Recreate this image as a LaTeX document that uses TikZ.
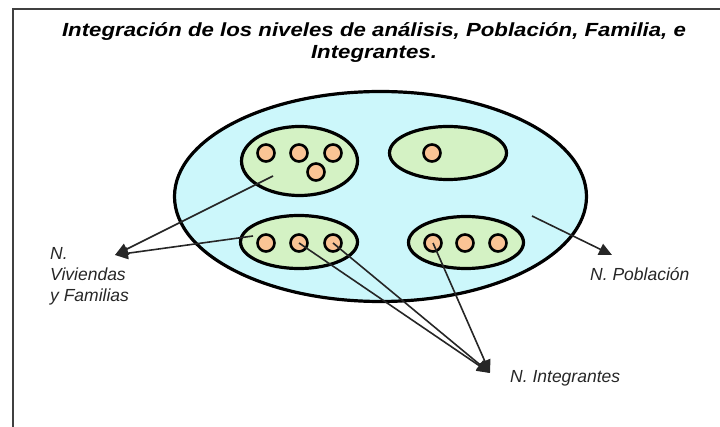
\documentclass[tikz,border=0pt]{standalone}
\usepackage{fontspec}
\setmainfont{Liberation Sans}
\newfontfamily\titlefont{Liberation Sans}[FakeStretch=1.17]
\usetikzlibrary{shapes.geometric,arrows.meta}
\definecolor{popfill}{HTML}{CCF7FB}
\definecolor{famfill}{HTML}{D4F2C4}
\definecolor{indfill}{HTML}{FAC495}
\tikzset{
  pop/.style={ellipse,draw=black,line width=3.2pt,fill=popfill,inner sep=0pt},
  fam/.style={ellipse,draw=black,line width=3.2pt,fill=famfill,inner sep=0pt},
  ind/.style={circle,draw=black,line width=2.6pt,fill=indfill,inner sep=0pt,minimum size=17pt},
  conn/.style={draw=black!85,line width=1.6pt},
  arr/.style={conn,-{Triangle[length=13pt,width=12pt]}},
  lbl/.style={font=\fontsize{17.5}{21}\selectfont\itshape,text=black!85,inner sep=0pt,align=left},
  ttl/.style={font=\titlefont\fontsize{19}{22}\selectfont\bfseries\itshape,inner sep=0pt,anchor=base},
}
\begin{document}
\begin{tikzpicture}[x=1pt,y=-1pt]
\useasboundingbox (0,0) rectangle (720,427);
% frame
\draw[line width=1.6pt,black!75] (13,427) -- (13,9) -- (720,9);
% title
\node[ttl] (title1) at (374,36.5) {Integración de los niveles de análisis, Población, Familia, e};
\node[ttl] (title2) at (374,58.5) {Integrantes.};
% population
\node[pop,minimum width=412pt,minimum height=210pt] (pop) at (380.5,196.5) {};
% families
\node[fam,minimum width=116pt,minimum height=69pt] (ftl) at (299.5,161) {};
\node[fam,minimum width=117pt,minimum height=53pt] (ftr) at (448,153) {};
\node[fam,minimum width=117pt,minimum height=53pt] (fbl) at (299,242) {};
\node[fam,minimum width=115pt,minimum height=52pt] (fbr) at (466,242.5) {};
% individuals
\node[ind] (a1) at (266,153) {};
\node[ind] (a2) at (299,153) {};
\node[ind] (a3) at (333,153) {};
\node[ind] (a4) at (316,172) {};
\node[ind] (b1) at (432,153) {};
\node[ind] (c1) at (266,243) {};
\node[ind] (c2) at (299,243) {};
\node[ind] (c3) at (333,243) {};
\node[ind] (d1) at (433,243) {};
\node[ind] (d2) at (465,243) {};
\node[ind] (d3) at (498,243) {};
% labels
\node[lbl,anchor=base west] (lviv) at (50,302) {N.\\Viviendas\\y Familias};
\node[lbl,anchor=base west] (lpob) at (590,281) {N. Población};
\node[lbl,anchor=base west] (lint) at (510,382) {N. Integrantes};
% connector end points
\coordinate (vtip) at (115,255);
\coordinate (ptip) at (612,255);
\coordinate (itip) at (490,373);
\coordinate (vs1) at (273,176);
\coordinate (vs2) at (253,236);
\coordinate (ps) at (532,216);
% connectors
\draw[arr] (vs1) -- (vtip);
\draw[arr] (vs2) -- (vtip);
\draw[arr] (ps) -- (ptip);
\draw[arr] (c2.center) -- (itip);
\draw[arr] (c3.center) -- (itip);
\draw[arr] (d1.center) -- (itip);
\end{tikzpicture}
\end{document}
